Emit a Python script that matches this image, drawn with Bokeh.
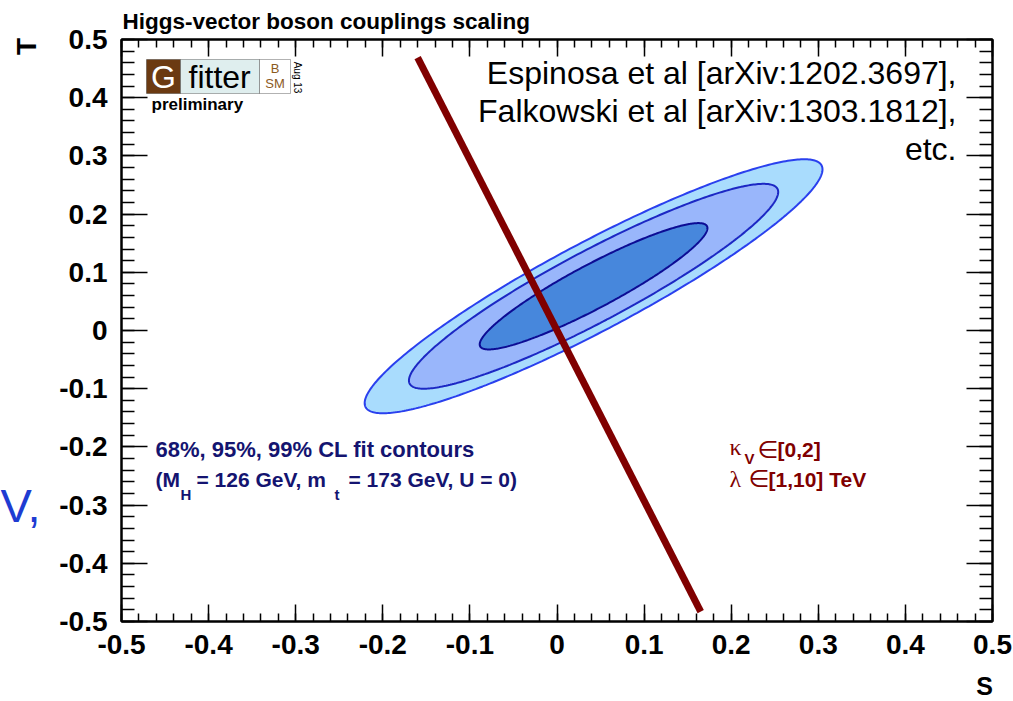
import numpy as np
from bokeh.plotting import figure
from bokeh.models import Range1d, LinearAxis, FixedTicker, Label, BoxAnnotation, GridBox
from bokeh.embed import file_html
from bokeh.resources import INLINE

# ---------------- data ----------------
s_ticks = [-0.5, -0.4, -0.3, -0.2, -0.1, 0.0, 0.1, 0.2, 0.3, 0.4, 0.5]
s_tick_labels = ["-0.5", "-0.4", "-0.3", "-0.2", "-0.1", "0", "0.1", "0.2", "0.3", "0.4", "0.5"]
t_ticks = [-0.5, -0.4, -0.3, -0.2, -0.1, 0.0, 0.1, 0.2, 0.3, 0.4, 0.5]
t_tick_labels = ["-0.5", "-0.4", "-0.3", "-0.2", "-0.1", "0", "0.1", "0.2", "0.3", "0.4", "0.5"]

# fit result: best fit point, widths, correlation
fit_S = 0.042
fit_T = 0.076
sigma_S = 0.0866
sigma_T = 0.0719
rho_ST = 0.92
cl_levels = [0.99, 0.95, 0.68]
cl_fill = ["#a9dcfd", "#99b6fb", "#4787dc"]
cl_line = ["#2a40ee", "#1c28c4", "#0c0c94"]

# kappa_V / lambda scan line
kv_line_S = [-0.160, 0.165]
kv_line_T = [0.469, -0.483]

# ---------------- layout helpers (page pixel -> data) ----------------
FL, FT, FR, FB = 121, 39, 992, 621
W, H = 1013, 701

def X(px):
    return -0.5 + (px - FL) / float(FR - FL)

def Y(py):
    return 0.5 - (py - FT) / float(FB - FT)

p = figure(width=W, height=H, x_range=Range1d(-0.5, 0.5), y_range=Range1d(-0.5, 0.5),
           output_backend="svg", toolbar_location=None,
           x_axis_location=None, y_axis_location=None,
           min_border_left=FL, min_border_right=W - FR, min_border_top=FT, min_border_bottom=H - FB)
p.grid.visible = False
p.outline_line_color = "black"
p.outline_line_width = 2
p.background_fill_color = "white"
p.border_fill_color = "white"

minor = [round(v, 2) for v in np.arange(-0.5, 0.5001, 0.02)]

def make_axis(ticks, labels, tick_in, minor_in, show, standoff):
    ax = LinearAxis(ticker=FixedTicker(ticks=ticks, minor_ticks=minor))
    ax.major_label_overrides = {t: l for t, l in zip(ticks, labels)}
    ax.axis_line_width = 2
    ax.axis_line_color = "black"
    ax.major_tick_line_width = 1.5
    ax.minor_tick_line_width = 1.5
    ax.major_tick_in = tick_in
    ax.major_tick_out = 0
    ax.minor_tick_in = minor_in
    ax.minor_tick_out = 0
    ax.major_label_text_font = "Liberation Sans"
    ax.major_label_text_font_style = "bold"
    ax.major_label_text_color = "black"
    ax.major_label_standoff = standoff
    if show:
        ax.major_label_text_font_size = "28px"
    else:
        ax.major_label_text_font_size = "0px"
        ax.major_label_text_alpha = 0
    return ax

p.add_layout(make_axis(s_ticks, s_tick_labels, 17, 8, True, 13), "below")
p.add_layout(make_axis(s_ticks, s_tick_labels, 17, 8, False, 0), "above")
p.add_layout(make_axis(t_ticks, t_tick_labels, 26, 13, True, 14), "left")
p.add_layout(make_axis(t_ticks, t_tick_labels, 26, 13, False, 0), "right")

# ---------------- contours ----------------
th = np.linspace(0, 2 * np.pi, 361)
for cl, fc, lc in zip(cl_levels, cl_fill, cl_line):
    k = np.sqrt(-2.0 * np.log(1.0 - cl))
    xs = fit_S + k * sigma_S * np.cos(th)
    ys = fit_T + k * sigma_T * (rho_ST * np.cos(th) + np.sqrt(1 - rho_ST ** 2) * np.sin(th))
    p.patch(xs, ys, fill_color=fc, line_color=lc, line_width=2)

p.line(kv_line_S, kv_line_T, line_width=7, line_color="#800000")

# ---------------- transparent overlay for all texts (frame = whole canvas) ----------------
o = figure(width=W, height=H, x_range=Range1d(X(0), X(W)), y_range=Range1d(Y(H), Y(0)),
           output_backend="svg", toolbar_location=None,
           x_axis_location=None, y_axis_location=None, min_border=0)
o.grid.visible = False
o.outline_line_color = None
o.background_fill_alpha = 0
o.border_fill_alpha = 0
for fig in (p, o):
    try:
        fig.frame_align = False
    except Exception:
        pass

def lab(x, y, text, size, color="black", style="normal", font="Liberation Sans",
        align="left", angle=0.0):
    o.add_layout(Label(x=X(x), y=Y(y), text=text, text_font=font, text_font_size=size,
                       text_color=color, text_font_style=style, text_align=align,
                       text_baseline="middle", angle=angle))

lab(122, 21, "Higgs-vector boson couplings scaling", "22.5px", style="bold")
lab(26, 46, "T", "28px", style="bold", align="center", angle=np.pi / 2)
lab(984, 685, "S", "25px", style="bold", align="center")

lab(956, 72, "Espinosa et al [arXiv:1202.3697],", "32px", align="right")
lab(956, 110, "Falkowski et al [arXiv:1303.1812],", "32px", align="right")
lab(956, 148, "etc.", "32px", align="right")

navy = "#141470"
lab(155, 449, "68%, 95%, 99% CL fit contours", "22px", color=navy, style="bold")
lab(155, 478.5, "(M", "21px", color=navy, style="bold")
lab(180, 494, "H", "15px", color=navy, style="bold")
lab(196, 478.5, "= 126 GeV, m", "21px", color=navy, style="bold")
lab(334, 494, "t", "15px", color=navy, style="bold")
lab(348, 478.5, "= 173 GeV, U = 0)", "21px", color=navy, style="bold")

maroon = "#800000"
lab(729, 446, "\u03ba", "24px", color=maroon, font="Liberation Serif")
lab(744, 457.5, "V", "15px", color=maroon, style="bold")
lab(757, 449, "\u2208", "24px", color=maroon, font="DejaVu Sans")
lab(777, 449, "[0,2]", "21px", color=maroon, style="bold")
lab(729, 478, "\u03bb", "24px", color=maroon, font="Liberation Serif")
lab(748, 478, "\u2208", "24px", color=maroon, font="DejaVu Sans")
lab(768, 479, "[1,10] TeV", "21px", color=maroon, style="bold")

# Gfitter logo
o.add_layout(BoxAnnotation(left=X(146), right=X(180), top=Y(59), bottom=Y(93),
                           fill_color="#6b3a12", fill_alpha=1, line_color="black", line_width=1))
o.add_layout(BoxAnnotation(left=X(180), right=X(259), top=Y(59), bottom=Y(93),
                           fill_color="#dfeeee", fill_alpha=1, line_color="black", line_width=1))
o.add_layout(BoxAnnotation(left=X(259), right=X(290), top=Y(59), bottom=Y(93),
                           fill_color="white", fill_alpha=1, line_color="black", line_width=1))
lab(163, 76, "G", "32px", color="white", align="center")
lab(188, 76, "fitter", "32px")
lab(274.5, 67.5, "B", "13px", color="#8b5a1e", align="center")
lab(274.5, 83, "SM", "13px", color="#8b5a1e", align="center")
lab(297, 77, "Aug 13", "10px", align="center", angle=-np.pi / 2)
lab(151, 104, "preliminary", "17px", style="bold")

# slide text fragment at the far left
lab(0, 505, "V,", "47px", color="#1e3cd2")

grid = GridBox(children=[(p, 0, 0), (o, 0, 0)])
open("out.html", "w").write(file_html(grid, INLINE))
